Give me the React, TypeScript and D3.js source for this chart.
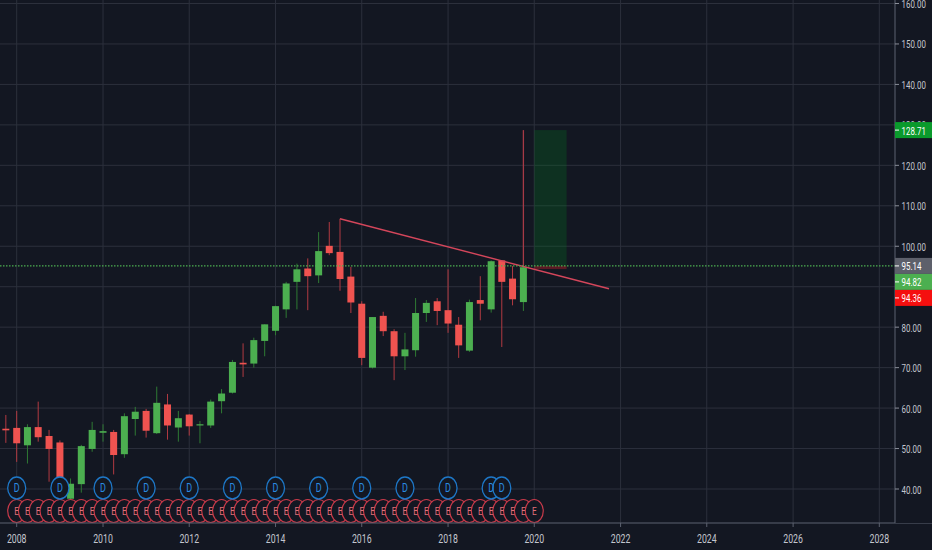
import * as d3 from "d3";

// quarterly candles, Q4 2007 .. Q4 2019
const candleDates = [
  "2007-10-01",
  "2008-01-01", "2008-04-01", "2008-07-01", "2008-10-01",
  "2009-01-01", "2009-04-01", "2009-07-01", "2009-10-01",
  "2010-01-01", "2010-04-01", "2010-07-01", "2010-10-01",
  "2011-01-01", "2011-04-01", "2011-07-01", "2011-10-01",
  "2012-01-01", "2012-04-01", "2012-07-01", "2012-10-01",
  "2013-01-01", "2013-04-01", "2013-07-01", "2013-10-01",
  "2014-01-01", "2014-04-01", "2014-07-01", "2014-10-01",
  "2015-01-01", "2015-04-01", "2015-07-01", "2015-10-01",
  "2016-01-01", "2016-04-01", "2016-07-01", "2016-10-01",
  "2017-01-01", "2017-04-01", "2017-07-01", "2017-10-01",
  "2018-01-01", "2018-04-01", "2018-07-01", "2018-10-01",
  "2019-01-01", "2019-04-01", "2019-07-01", "2019-10-01",
];
const opens = [
  54.9,
  55.1, 50.8, 55.3, 53.1,
  51.5, 37.6, 41.2, 49.9,
  53.9, 54.1, 48.6, 57.3,
  59.3, 53.8, 60.9, 55.2,
  58.4, 55.7, 55.7, 61.7,
  63.8, 71.2, 71.0, 76.6,
  79.1, 84.4, 91.2, 94.5,
  92.8, 100.1, 98.6, 92.5,
  85.8, 70.0, 82.8, 79.0,
  72.8, 74.3, 83.5, 86.4,
  84.2, 80.6, 74.2, 86.7,
  84.4, 96.5, 92.0, 86.2,
];
const highs = [
  58.3,
  59.3, 56.0, 61.6, 54.6,
  52.0, 42.6, 50.9, 56.6,
  56.0, 54.6, 58.7, 60.3,
  59.8, 65.3, 63.5, 59.3,
  58.5, 56.8, 62.1, 64.7,
  71.9, 76.0, 77.4, 80.7,
  85.3, 91.2, 95.7, 97.0,
  103.5, 106.0, 106.8, 94.9,
  86.4, 82.5, 83.8, 79.5,
  78.6, 87.2, 86.7, 87.2,
  94.3, 82.5, 86.8, 92.6,
  96.5, 96.5, 95.1, 95.14,
];
const lows = [
  51.4,
  46.7, 46.3, 51.7, 41.8,
  35.8, 36.6, 39.1, 49.2,
  51.7, 43.6, 47.7, 53.2,
  52.7, 53.6, 52.2, 51.7,
  53.2, 51.3, 55.1, 58.7,
  63.6, 67.7, 70.0, 72.8,
  78.0, 82.3, 84.4, 84.2,
  90.9, 97.8, 89.0, 83.5,
  70.6, 69.8, 77.8, 66.9,
  69.4, 72.7, 81.3, 80.5,
  78.6, 72.4, 73.9, 81.7,
  83.6, 75.1, 85.4, 84.0,
];
const closes = [
  54.5,
  51.3, 55.3, 52.8, 49.9,
  38.0, 41.3, 50.6, 54.6,
  54.3, 48.4, 58.0, 59.1,
  54.4, 61.3, 55.7, 57.5,
  55.5, 56.0, 61.6, 63.6,
  71.4, 70.8, 76.8, 80.7,
  85.2, 90.8, 94.3, 92.6,
  98.8, 98.3, 91.9, 86.1,
  72.4, 82.5, 79.0, 72.8,
  74.5, 83.5, 86.0, 84.0,
  80.9, 75.5, 86.2, 85.8,
  96.3, 91.2, 86.9, 94.82,
];

// event markers
const dividendDates = [
  "2008-01-01", "2009-01-01", "2010-01-01", "2011-01-01", "2012-01-01",
  "2013-01-01", "2014-01-01", "2015-01-01", "2016-01-01", "2017-01-01",
  "2018-01-01", "2019-01-01", "2019-04-01",
];
const earningsDates = [...candleDates.slice(1), "2020-01-01"];

// axes (90.00 sits under the stacked price labels, so it has no text)
const yearTicks = [2008, 2010, 2012, 2014, 2016, 2018, 2020, 2022, 2024, 2026, 2028];
const priceTicks = [40, 50, 60, 70, 80, 90, 100, 110, 120, 130, 140, 150, 160];
const hiddenPriceTicks = [90];

// drawings
const trendDates = ["2015-07-01", "2021-09-25"];
const trendValues = [106.8, 89.5];
const positionDates = ["2020-01-01", "2020-10-01"];
const entryPrice = 95.14;
const targetPrice = 128.71;
const stopPrice = 94.36;
const lastPrice = 94.82;
const signalDate = "2019-10-01";

const W = 932;
const H = 550;
const axisX = 895;
const axisY = 523;
const BG = "#131722";
const GRID = "#2c303c";
const TEXT = "#c3c6ce";
const UP = "#4caf50";
const DOWN = "#ef5350";
const UP_WICK = "#2f7a34";
const DOWN_WICK = "#b23a42";

const parse = d3.timeParse("%Y-%m-%d");
const x = d3
  .scaleTime()
  .domain([new Date(2008, 0, 1), new Date(2028, 0, 1)])
  .range([16.7, 879.3]);
const y = d3.scaleLinear().domain([40, 160]).range([489, 3.5]);

const candles = candleDates.map((d, i) => ({
  date: parse(d) as Date,
  open: opens[i],
  high: highs[i],
  low: lows[i],
  close: closes[i],
}));

const SText = ({
  x0,
  y0,
  size,
  fill,
  anchor = "middle",
  sx = 0.72,
  children,
}: {
  x0: number;
  y0: number;
  size: number;
  fill: string;
  anchor?: string;
  sx?: number;
  children: string;
}) => (
  <text
    transform={`translate(${x0},${y0}) scale(${sx},1)`}
    fontSize={size}
    fill={fill}
    textAnchor={anchor}
    dominantBaseline="central"
    fontFamily="Roboto, 'DejaVu Sans', sans-serif"
  >
    {children}
  </text>
);

const PriceLabel = ({
  cy,
  bg,
  label,
}: {
  cy: number;
  bg: string;
  label: string;
}) => (
  <g>
    <rect x={axisX} y={cy - 8} width={W - axisX} height={16} fill={bg} />
    <line x1={axisX} x2={axisX + 4} y1={cy} y2={cy} stroke="#fff" />
    <SText x0={901.5} y0={cy + 0.5} size={11} fill="#fff" anchor="start">
      {label}
    </SText>
  </g>
);

export default function App() {
  const bw = 7;
  const trendLine = d3
    .line<number>()
    .x((_, i) => x(parse(trendDates[i]) as Date))
    .y((v) => y(v));
  const px0 = x(parse(positionDates[0]) as Date);
  const px1 = x(parse(positionDates[1]) as Date);
  const sigX = x(parse(signalDate) as Date);
  const entryY = y(entryPrice);

  return (
    <div style={{ position: "fixed", left: 0, top: 0, width: W, height: H, background: BG }}>
      <svg width={W} height={H} style={{ display: "block" }}>
        <rect width={W} height={H} fill={BG} />

        {/* grid */}
        {priceTicks.map((t) => (
          <line key={"h" + t} x1={0} x2={axisX} y1={y(t)} y2={y(t)} stroke={GRID} />
        ))}
        {yearTicks.map((t) => {
          const gx = x(new Date(t, 0, 1));
          return <line key={"v" + t} x1={gx} x2={gx} y1={0} y2={axisY} stroke={GRID} />;
        })}

        {/* long position box */}
        <rect
          x={px0}
          y={y(targetPrice)}
          width={px1 - px0}
          height={y(entryPrice) - y(targetPrice)}
          fill="rgba(0,128,32,0.25)"
        />
        <rect
          x={px0}
          y={y(entryPrice)}
          width={px1 - px0}
          height={y(stopPrice) - y(entryPrice)}
          fill="rgba(180,30,40,0.45)"
        />

        {/* candles */}
        {candles.map((c) => {
          const cx = x(c.date);
          const up = c.close >= c.open;
          const top = y(Math.max(c.open, c.close));
          const h = Math.max(1, Math.abs(y(c.open) - y(c.close)));
          return (
            <g key={c.date.toISOString()}>
              <line
                x1={cx}
                x2={cx}
                y1={y(c.high)}
                y2={y(c.low)}
                stroke={up ? UP_WICK : DOWN_WICK}
                strokeWidth={1}
              />
              <rect x={cx - bw / 2} y={top} width={bw} height={h} fill={up ? UP : DOWN} />
            </g>
          );
        })}

        {/* signal line + trend line */}
        <line
          x1={sigX}
          x2={sigX}
          y1={y(targetPrice)}
          y2={entryY}
          stroke="#a63a46"
          strokeWidth={1.3}
        />
        <path d={trendLine(trendValues) || ""} fill="none" stroke="#d4465b" strokeWidth={1.4} />

        {/* price line, dotted */}
        <line
          x1={0}
          x2={axisX}
          y1={entryY}
          y2={entryY}
          stroke="#4caf50"
          strokeWidth={1.2}
          strokeDasharray="1.5,1.5"
        />

        {/* earnings markers */}
        {earningsDates.map((d) => (
          <ellipse
            key={"ec" + d}
            cx={x(parse(d) as Date)}
            cy={511}
            rx={9}
            ry={11.5}
            fill={BG}
            stroke="#c73a4a"
            strokeWidth={1.2}
          />
        ))}
        {earningsDates.map((d) => (
          <SText key={"et" + d} x0={x(parse(d) as Date)} y0={511.5} size={11} fill="#e0707a" sx={0.75}>
            E
          </SText>
        ))}

        {/* dividend markers */}
        {dividendDates.map((d) => (
          <ellipse
            key={"d" + d}
            cx={x(parse(d) as Date)}
            cy={488}
            rx={9}
            ry={11}
            fill={BG}
            stroke="#1e78c8"
            strokeWidth={1.3}
          />
        ))}
        {dividendDates.map((d) => (
          <SText key={"dt" + d} x0={x(parse(d) as Date)} y0={488.5} size={12} fill="#2a8ae0" sx={0.75}>
            D
          </SText>
        ))}

        {/* time axis */}
        <rect x={0} y={axisY} width={W} height={H - axisY} fill={BG} />
        <line x1={0} x2={W} y1={axisY} y2={axisY} stroke="#5d6270" />
        {yearTicks.map((t) => {
          const tx = x(new Date(t, 0, 1));
          return (
            <g key={"xt" + t}>
              <line x1={tx} x2={tx} y1={axisY} y2={axisY + 4} stroke="#5d6270" />
              <SText x0={tx} y0={538.5} size={12.5} fill={TEXT} sx={0.7}>
                {String(t)}
              </SText>
            </g>
          );
        })}

        {/* price axis */}
        <rect x={axisX} y={0} width={W - axisX} height={axisY} fill={BG} />
        <line x1={axisX} x2={axisX} y1={0} y2={axisY} stroke="#5d6270" />
        {priceTicks.map((t) => (
          <g key={"yt" + t}>
            <line x1={axisX} x2={axisX + 4} y1={y(t)} y2={y(t)} stroke="#8a8e99" />
            {!hiddenPriceTicks.includes(t) && (
              <SText x0={901.5} y0={y(t) + 0.5} size={11} fill={TEXT} anchor="start">
                {t.toFixed(2)}
              </SText>
            )}
          </g>
        ))}

        <PriceLabel cy={y(targetPrice)} bg="#0a9a2c" label={targetPrice.toFixed(2)} />
        <PriceLabel cy={y(entryPrice)} bg="#5d606b" label={entryPrice.toFixed(2)} />
        <PriceLabel cy={y(entryPrice) + 16} bg="#4caf50" label={lastPrice.toFixed(2)} />
        <PriceLabel cy={y(entryPrice) + 32} bg="#f50f0f" label={stopPrice.toFixed(2)} />
      </svg>
    </div>
  );
}
